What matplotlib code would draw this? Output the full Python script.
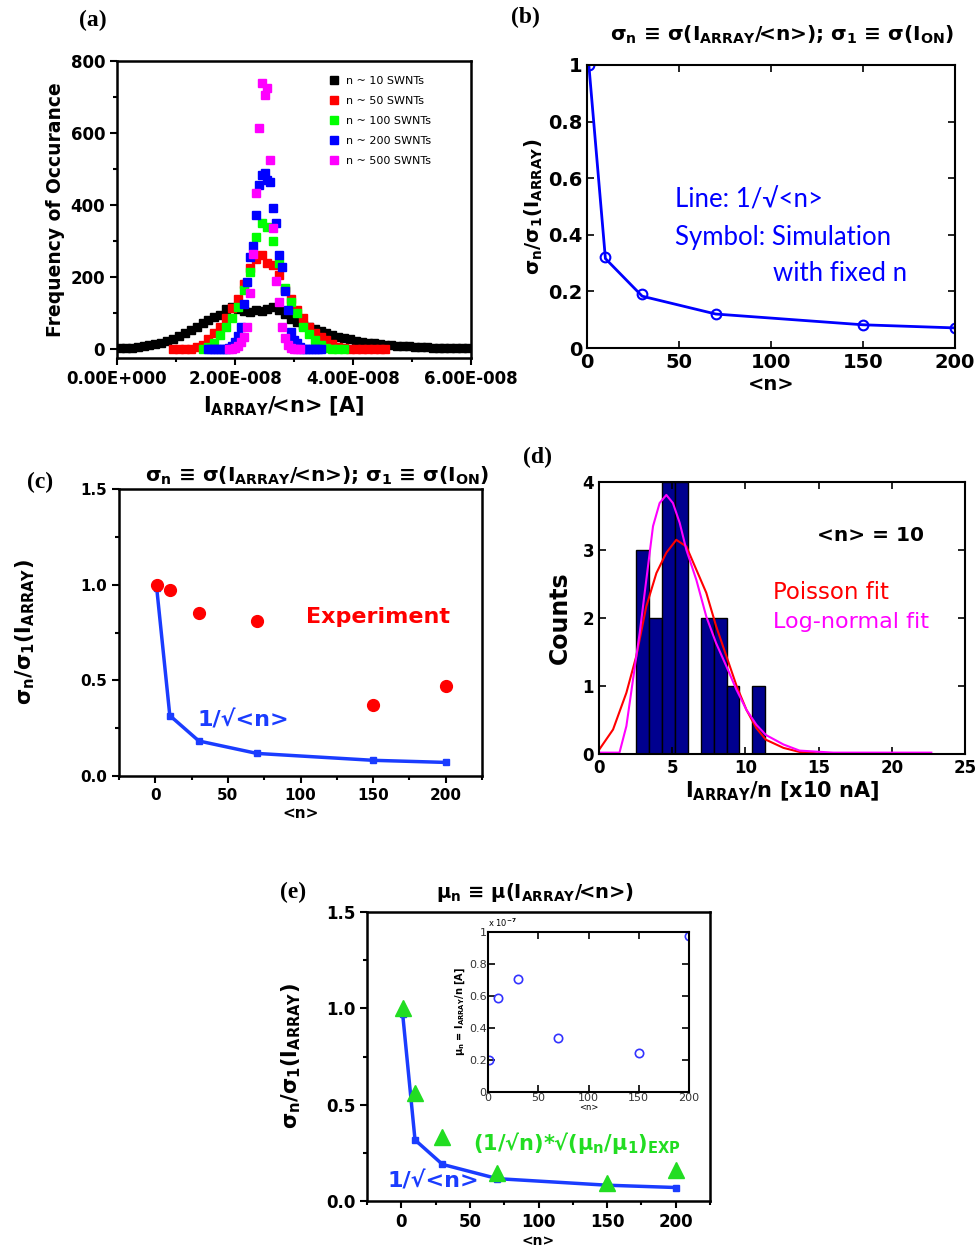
import matplotlib
matplotlib.use('Agg')
import matplotlib.pyplot as plt
from matplotlib.ticker import MultipleLocator

# ---- data ----
# (a) histograms, x in units of 1e-8 A
a_x_10 = [0.05, 0.15, 0.25, 0.35, 0.45, 0.55, 0.65, 0.75, 0.85, 0.95,
          1.05, 1.15, 1.25, 1.35, 1.45, 1.55, 1.65, 1.75, 1.85, 1.95,
          2.05, 2.15, 2.25, 2.35, 2.45, 2.55, 2.65, 2.75, 2.85, 2.95,
          3.05, 3.15, 3.25, 3.35, 3.45, 3.55, 3.65, 3.75, 3.85, 3.95,
          4.05, 4.15, 4.25, 4.35, 4.45, 4.55, 4.65, 4.75, 4.85, 4.95,
          5.05, 5.15, 5.25, 5.35, 5.45, 5.55, 5.65, 5.75, 5.85, 5.95]
a_y_10 = [3, 3, 4, 5, 8, 10, 13, 17, 22, 28,
          36, 44, 52, 62, 72, 80, 88, 95, 110, 116,
          112, 106, 104, 108, 106, 112, 116, 108, 96, 84,
          74, 66, 60, 55, 50, 44, 38, 33, 30, 27,
          23, 20, 18, 16, 14, 12, 10, 9, 8, 7,
          6, 5, 5, 4, 4, 3, 3, 2, 2, 2]
a_x_50 = [0.95, 1.05, 1.15, 1.25, 1.35, 1.45, 1.55, 1.65, 1.75, 1.85,
          1.95, 2.05, 2.15, 2.25, 2.35, 2.45, 2.55, 2.65, 2.75, 2.85,
          2.95, 3.05, 3.15, 3.25, 3.35, 3.45, 3.55, 3.65, 3.75, 3.85,
          3.95, 4.05, 4.15, 4.25, 4.35, 4.45, 4.55]
a_y_50 = [0, 0, 0, 1, 5, 12, 28, 45, 62, 85,
          115, 140, 180, 225, 250, 262, 240, 232, 205, 165,
          140, 108, 85, 60, 45, 33, 25, 15, 6, 2,
          0, 0, 0, 0, 0, 0, 0]
a_x_100 = [1.45, 1.55, 1.65, 1.75, 1.85, 1.95, 2.05, 2.15, 2.25, 2.35,
           2.45, 2.55, 2.65, 2.75, 2.85, 2.95, 3.05, 3.15, 3.25, 3.35,
           3.45, 3.55, 3.65, 3.75, 3.85]
a_y_100 = [0, 5, 18, 38, 60, 85, 118, 165, 215, 310,
           350, 340, 300, 240, 170, 130, 100, 62, 42, 25,
           10, 2, 0, 0, 0]
a_x_200 = [1.55, 1.60, 1.65, 1.70, 1.75, 1.80, 1.85, 1.90, 1.95, 2.00,
           2.05, 2.10, 2.15, 2.20, 2.25, 2.30, 2.35, 2.40, 2.45, 2.50,
           2.55, 2.60, 2.65, 2.70, 2.75, 2.80, 2.85, 2.90, 2.95, 3.00,
           3.05, 3.10, 3.15, 3.20, 3.25, 3.30, 3.35, 3.40, 3.45]
a_y_200 = [0, 0, 0, 0, 0, 0, 0, 2, 8, 20,
           35, 60, 125, 185, 255, 285, 372, 455, 483, 490,
           469, 465, 392, 350, 261, 228, 160, 108, 47, 25,
           17, 6, 0, 0, 0, 0, 0, 0, 0]
a_x_500 = [1.90, 1.95, 2.00, 2.05, 2.10, 2.15, 2.20, 2.25, 2.30, 2.35,
           2.40, 2.45, 2.50, 2.55, 2.60, 2.65, 2.70, 2.75, 2.80, 2.85,
           2.90, 2.95, 3.00, 3.05, 3.10]
a_y_500 = [0, 0, 3, 8, 20, 32, 62, 155, 265, 433,
           614, 739, 705, 725, 525, 335, 190, 130, 60, 30,
           10, 3, 0, 0, 0]
a_labels = ['n ~ 10 SWNTs', 'n ~ 50 SWNTs', 'n ~ 100 SWNTs', 'n ~ 200 SWNTs', 'n ~ 500 SWNTs']
a_colors = ['#000000', '#ff0000', '#00ff00', '#0000ff', '#ff00ff']

# (b)
b_n = [1, 10, 30, 70, 150, 200]
b_line = [1.0, 0.316, 0.183, 0.120, 0.082, 0.071]
b_sim = [1.0, 0.32, 0.19, 0.12, 0.083, 0.072]

# (c)
c_n = [1, 10, 30, 70, 150, 200]
c_theory = [0.98, 0.316, 0.183, 0.118, 0.082, 0.071]
c_exp = [1.0, 0.97, 0.85, 0.81, 0.37, 0.47]

# (d)
d_centers = [2.99, 3.87, 4.75, 5.63, 6.51, 7.39, 8.27, 9.15, 10.03, 10.91]
d_counts = [3, 2, 4, 4, 0, 2, 2, 1, 0, 1]
d_pois_x = [0, 0.96, 1.87, 2.55, 3.23, 3.92, 4.6, 5.28, 5.97, 6.65, 7.33, 8.0,
            8.7, 9.4, 10.07, 10.75, 11.4, 12.6, 13.7, 14.9, 15.8]
d_pois_y = [0.06, 0.36, 0.9, 1.44, 2.17, 2.66, 2.96, 3.15, 3.05, 2.71, 2.37, 1.88,
            1.44, 1.0, 0.65, 0.38, 0.21, 0.09, 0.03, 0.01, 0.01]
d_logn_x = [0, 1.4, 1.87, 2.32, 2.78, 3.23, 3.69, 4.14, 4.6, 5.05, 5.51, 5.97,
            6.65, 7.33, 8.0, 8.7, 9.38, 10.07, 10.75, 11.4, 12.6, 13.7, 16.0, 22.7]
d_logn_y = [0.02, 0.02, 0.41, 1.09, 1.78, 2.56, 3.35, 3.69, 3.81, 3.69, 3.4, 3.0,
            2.56, 2.02, 1.63, 1.29, 0.95, 0.65, 0.43, 0.28, 0.14, 0.05, 0.02, 0.02]

# (e)
e_n = [1, 10, 30, 70, 150, 200]
e_theory = [0.97, 0.317, 0.19, 0.116, 0.082, 0.07]
e_scaled = [1.0, 0.56, 0.33, 0.145, 0.095, 0.16]
e_mu = [0.20, 0.585, 0.705, 0.335, 0.245, 0.975]   # x 1e-7 A

# ---- styling ----
plt.rcParams['font.family'] = ['DejaVu Sans']
plt.rcParams['font.weight'] = 'bold'
plt.rcParams['axes.labelweight'] = 'bold'
plt.rcParams['mathtext.fontset'] = 'custom'
plt.rcParams['mathtext.rm'] = 'DejaVu Sans:bold'
plt.rcParams['mathtext.it'] = 'DejaVu Sans:bold'
plt.rcParams['mathtext.bf'] = 'DejaVu Sans:bold'
plt.rcParams['mathtext.sf'] = 'DejaVu Sans:bold'

W, H = 980, 1254
fig = plt.figure(figsize=(W / 100, H / 100), dpi=100)


def rect(l, t, r, b):
    return [l / W, 1 - b / H, (r - l) / W, (b - t) / H]


def origin_ticks(ax, size):
    ax.tick_params(which='both', direction='out', top=False, right=False, labelsize=size, width=1.5)
    ax.tick_params(which='major', length=5)
    ax.tick_params(which='minor', length=3)
    for s in ax.spines.values():
        s.set_linewidth(1.8)


def matlab_ticks(ax, size, lw=1.5):
    ax.tick_params(which='both', direction='in', top=True, right=True, labelsize=size, width=1.2, length=5)
    for s in ax.spines.values():
        s.set_linewidth(lw)


sig_title = r'σ$_n$ ≡ σ(I$_{ARRAY}$/<n>); σ$_1$ ≡ σ(I$_{ON}$)'
sig_ylabel = r'σ$_n$/σ$_1$(I$_{ARRAY}$)'

# ---- (a) ----
ax = fig.add_axes(rect(117, 61, 471, 358))
series = [(a_x_10, a_y_10), (a_x_50, a_y_50), (a_x_100, a_y_100), (a_x_200, a_y_200), (a_x_500, a_y_500)]
for (xs, ys), lab, col in zip(series, a_labels, a_colors):
    ax.plot([v * 1e-8 for v in xs], ys, 's', color=col, ms=5.5, mec=col, label=lab)
ax.set_xlim(0, 6e-8)
ax.set_ylim(-25, 800)
ax.set_xticks([0, 2e-8, 4e-8, 6e-8])
ax.set_xticklabels(['0.00E+000', '2.00E-008', '4.00E-008', '6.00E-008'])
ax.xaxis.set_minor_locator(MultipleLocator(1e-8))
ax.set_yticks([0, 200, 400, 600, 800])
ax.yaxis.set_minor_locator(MultipleLocator(100))
origin_ticks(ax, 12)
ax.set_xlabel(r'I$_{ARRAY}$/<n> [A]', fontsize=15)
ax.xaxis.set_label_coords(0.472, -0.125)
ax.set_ylabel('Frequency of Occurance', fontsize=13.5, labelpad=4)
ax.legend(loc='upper left', bbox_to_anchor=(0.575, 0.975), frameon=False, handletextpad=0.6,
          labelspacing=0.9, borderpad=0.2, prop={'size': 8, 'weight': 'normal'}, handlelength=1)
fig.text(93 / W, 1 - 20 / H, '(a)', family='Liberation Serif', fontsize=17, ha='center', va='center')

# ---- (b) ----
ax = fig.add_axes(rect(587, 65, 955, 348))
ax.plot(b_n, b_line, '-', color='#0000ff', lw=2)
ax.plot(b_n, b_sim, 'o', mfc='none', mec='#0000ff', ms=7, mew=1.5)
ax.set_xlim(0, 200)
ax.set_ylim(0, 1)
ax.set_xticks([0, 50, 100, 150, 200])
ax.set_yticks([0, 0.2, 0.4, 0.6, 0.8, 1])
ax.set_yticklabels(['0', '0.2', '0.4', '0.6', '0.8', '1'])
matlab_ticks(ax, 14)
ax.set_xlabel('<n>', fontsize=14, labelpad=2)
ax.set_ylabel(sig_ylabel, fontsize=14, labelpad=2)
ax.text(0.53, 1.106, sig_title, transform=ax.transAxes, ha='center', va='center', fontsize=14.5)
bfont = dict(family=['Lato', 'DejaVu Sans'], weight='normal', fontsize=18.5, color='#0000ff', va='center')
ax.text(48, 0.523, 'Line: 1/√<n>', **bfont)
ax.text(48, 0.39, 'Symbol: Simulation', **bfont)
ax.text(101, 0.265, 'with fixed n', **bfont)
fig.text(525 / W, 1 - 17 / H, '(b)', family='Liberation Serif', fontsize=17, ha='center', va='center')

# ---- (c) ----
ax = fig.add_axes(rect(119, 489, 482, 776))
ax.plot(c_n, c_theory, '-s', color='#1a3cff', lw=2.5, ms=5)
ax.plot(c_n, c_exp, 'o', color='#ff0000', ms=8.5, mec='#ff0000')
ax.set_xlim(-25, 225)
ax.set_ylim(0, 1.5)
ax.set_xticks([0, 50, 100, 150, 200])
ax.xaxis.set_minor_locator(MultipleLocator(25))
ax.set_yticks([0, 0.5, 1.0, 1.5])
ax.set_yticklabels(['0.0', '0.5', '1.0', '1.5'])
ax.yaxis.set_minor_locator(MultipleLocator(0.25))
origin_ticks(ax, 11)
ax.set_xlabel('<n>', fontsize=11, labelpad=2)
ax.set_ylabel(sig_ylabel, fontsize=15)
ax.yaxis.set_label_coords(-0.226, 0.5)
ax.text(0.545, 1.045, sig_title, transform=ax.transAxes, ha='center', va='center', fontsize=14.5)
ax.text(104, 0.83, 'Experiment', color='#ff0000', fontsize=16, va='center')
ax.text(29, 0.29, '1/√<n>', color='#1a3cff', fontsize=16, va='center')
fig.text(40 / W, 1 - 482 / H, '(c)', family='Liberation Serif', fontsize=17, ha='center', va='center')

# ---- (d) ----
ax = fig.add_axes(rect(599, 482, 965, 754))
ax.bar(d_centers, d_counts, width=0.88, color='#00008f', edgecolor='#000000', lw=1)
ax.plot(d_pois_x, d_pois_y, '-', color='#ff0000', lw=1.5)
ax.plot(d_logn_x, d_logn_y, '-', color='#ff00ff', lw=1.5)
ax.set_xlim(0, 25)
ax.set_ylim(0, 4)
ax.set_xticks([0, 5, 10, 15, 20, 25])
ax.set_yticks([0, 1, 2, 3, 4])
matlab_ticks(ax, 12)
ax.set_xlabel(r'I$_{ARRAY}$/n [x10 nA]', fontsize=15, labelpad=2)
ax.set_ylabel('Counts', fontsize=17, labelpad=8)
ax.text(14.9, 3.22, '<n> = 10', fontsize=14.5, va='center')
ax.text(11.9, 2.38, 'Poisson fit', fontsize=16.5, weight='normal', color='#ff0000', va='center')
ax.text(11.9, 1.94, 'Log-normal fit', fontsize=16, weight='normal', color='#ff00ff', va='center')
fig.text(537 / W, 1 - 457 / H, '(d)', family='Liberation Serif', fontsize=17, ha='center', va='center')

# ---- (e) ----
ax = fig.add_axes(rect(367, 912, 710, 1201))
ax.plot(e_n, e_theory, '-s', color='#1a3cff', lw=2.5, ms=5)
ax.plot(e_n, e_scaled, '^', color='#22dd22', ms=11, mec='#22dd22')
ax.set_xlim(-25, 225)
ax.set_ylim(0, 1.5)
ax.set_xticks([0, 50, 100, 150, 200])
ax.xaxis.set_minor_locator(MultipleLocator(25))
ax.set_yticks([0, 0.5, 1.0, 1.5])
ax.set_yticklabels(['0.0', '0.5', '1.0', '1.5'])
ax.yaxis.set_minor_locator(MultipleLocator(0.25))
origin_ticks(ax, 12)
ax.set_xlabel('<n>', fontsize=10, labelpad=2)
ax.set_ylabel(sig_ylabel, fontsize=15)
ax.yaxis.set_label_coords(-0.187, 0.5)
ax.text(0.49, 1.069, r'μ$_n$ ≡ μ(I$_{ARRAY}$/<n>)', transform=ax.transAxes, ha='center', va='center', fontsize=14)
ax.text(52, 0.30, r'(1/√n)*√(μ$_n$/μ$_1$)$_{EXP}$', color='#22dd22', fontsize=15, va='center')
ax.text(-10, 0.099, '1/√<n>', color='#1a3cff', fontsize=16, va='center')
fig.text(293 / W, 1 - 892 / H, '(e)', family='Liberation Serif', fontsize=17, ha='center', va='center')

# inset
ins = fig.add_axes(rect(488, 932, 689, 1092))
ins.plot(e_n, e_mu, 'o', mfc='none', mec='#3333ff', ms=6, mew=1.2)
ins.set_xlim(0, 200)
ins.set_ylim(0, 1)
ins.set_xticks([0, 50, 100, 150, 200])
ins.set_yticks([0, 0.2, 0.4, 0.6, 0.8, 1])
ins.set_yticklabels(['0', '0.2', '0.4', '0.6', '0.8', '1'])
matlab_ticks(ins, 8, lw=1.5)
for lab in ins.get_xticklabels() + ins.get_yticklabels():
    lab.set_fontweight('normal')
    lab.set_color('#333333')
ins.tick_params(pad=1)
ins.set_xlabel('<n>', fontsize=6, weight='normal', labelpad=0)
ins.set_ylabel(r'μ$_n$ = I$_{ARRAY}$/n [A]', fontsize=7, labelpad=1)
ins.text(0.0, 1.02, r'x 10$^{-7}$', transform=ins.transAxes, fontsize=6, weight='normal', va='bottom')

fig.savefig('out.png', dpi=100)
